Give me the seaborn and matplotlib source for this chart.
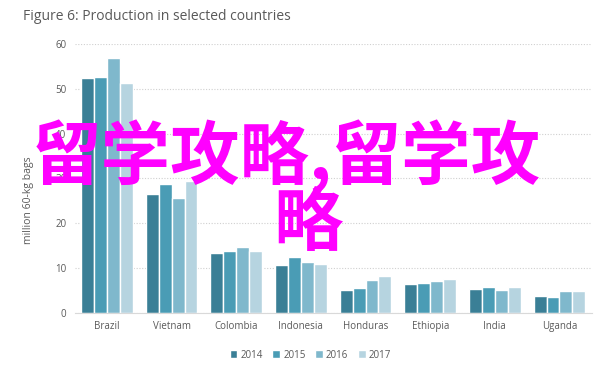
import pandas as pd
import seaborn as sns
import matplotlib.pyplot as plt

countries = ['Brazil', 'Vietnam', 'Colombia', 'Indonesia', 'Honduras', 'Ethiopia', 'India', 'Uganda']
years = ['2014', '2015', '2016', '2017']
v2014 = [52.4, 26.6, 13.3, 10.8, 5.2, 6.5, 5.4, 3.7]
v2015 = [52.6, 28.8, 13.9, 12.5, 5.6, 6.7, 5.7, 3.6]
v2016 = [56.8, 25.6, 14.6, 11.4, 7.4, 7.2, 5.1, 4.9]
v2017 = [51.3, 29.4, 13.9, 10.9, 8.3, 7.6, 5.8, 5.0]
colors = ['#3a7f96', '#4a9cb5', '#7fb8cc', '#b6d4e0']

rows = []
for yr, vals in zip(years, [v2014, v2015, v2016, v2017]):
    for c, v in zip(countries, vals):
        rows.append({'country': c, 'year': yr, 'value': v})
df = pd.DataFrame(rows)

sns.set_style('white')
plt.rcParams['font.family'] = ['Open Sans', 'DejaVu Sans']

fig = plt.figure(figsize=(6.12, 3.66), dpi=100)
ax = fig.add_axes([0.122, 0.145, 0.845, 0.735])

sns.barplot(data=df, x='country', y='value', hue='year', palette=colors,
            width=0.8, saturation=1, ax=ax, legend=True)

ax.set_ylim(0, 60)
ax.set_yticks(range(0, 61, 10))
ax.yaxis.grid(True, linestyle=(0, (1, 1.5)), color='#d0d0d0', linewidth=0.8)
ax.set_axisbelow(True)
for s in ['top', 'right', 'left']:
    ax.spines[s].set_visible(False)
ax.spines['bottom'].set_color('#d9d9d9')
ax.tick_params(axis='both', length=0, labelsize=7, colors='#595959', pad=6)
ax.set_xlabel('')
ax.set_ylabel('')
fig.text(0.047, 0.454, 'million 60-kg bags', rotation=90, ha='center', va='center',
         fontsize=7.5, color='#595959')

fig.text(0.037, 0.954, 'Figure 6: Production in selected countries', ha='left', va='center',
         fontsize=10, color='#595959')

handles, labels = ax.get_legend_handles_labels()
ax.get_legend().remove()
fig.legend(handles, labels, loc='center', bbox_to_anchor=(0.507, 0.03), ncol=4, frameon=False,
           fontsize=7, handlelength=0.8, handleheight=0.8, handletextpad=0.3,
           columnspacing=1.0, labelcolor='#595959')

# watermark overlay
fig.text(0.467, 0.571, '留学攻略,留学攻', ha='center', va='center', fontsize=50,
         color='#ff00ff', fontweight='bold', family=['Noto Sans CJK SC', 'DejaVu Sans'])
fig.text(0.503, 0.385, '略', ha='center', va='center', fontsize=50,
         color='#ff00ff', fontweight='bold', family=['Noto Sans CJK SC', 'DejaVu Sans'])

fig.savefig('out.png', dpi=100)
